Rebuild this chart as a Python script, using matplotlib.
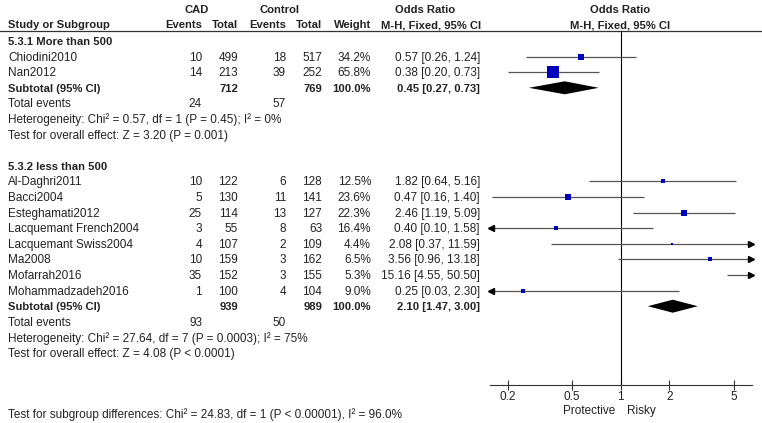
import matplotlib
matplotlib.use("Agg")
import matplotlib.pyplot as plt
import numpy as np

plt.rcParams['font.family'] = ['Liberation Sans', 'DejaVu Sans']

# ---- data ----
g1_title = "5.3.1 More than 500"
g1_study = ["Chiodini2010", "Nan2012"]
g1_cad_ev = [10, 14]
g1_cad_n = [499, 213]
g1_ctl_ev = [18, 39]
g1_ctl_n = [517, 252]
g1_weight = [34.2, 65.8]
g1_or = [0.57, 0.38]
g1_lo = [0.26, 0.20]
g1_hi = [1.24, 0.73]
g1_sub = (712, 769, 0.45, 0.27, 0.73)
g1_events = (24, 57)
g1_het = "Heterogeneity: Chi² = 0.57, df = 1 (P = 0.45); I² = 0%"
g1_z = "Test for overall effect: Z = 3.20 (P = 0.001)"

g2_title = "5.3.2 less than 500"
g2_study = ["Al-Daghri2011", "Bacci2004", "Esteghamati2012", "Lacquemant French2004",
            "Lacquemant Swiss2004", "Ma2008", "Mofarrah2016", "Mohammadzadeh2016"]
g2_cad_ev = [10, 5, 25, 3, 4, 10, 35, 1]
g2_cad_n = [122, 130, 114, 55, 107, 159, 152, 100]
g2_ctl_ev = [6, 11, 13, 8, 2, 3, 3, 4]
g2_ctl_n = [128, 141, 127, 63, 109, 162, 155, 104]
g2_weight = [12.5, 23.6, 22.3, 16.4, 4.4, 6.5, 5.3, 9.0]
g2_or = [1.82, 0.47, 2.46, 0.40, 2.08, 3.56, 15.16, 0.25]
g2_lo = [0.64, 0.16, 1.19, 0.10, 0.37, 0.96, 4.55, 0.03]
g2_hi = [5.16, 1.40, 5.09, 1.58, 11.59, 13.18, 50.50, 2.30]
g2_sub = (939, 989, 2.10, 1.47, 3.00)
g2_events = (93, 50)
g2_het = "Heterogeneity: Chi² = 27.64, df = 7 (P = 0.0003); I² = 75%"
g2_z = "Test for overall effect: Z = 4.08 (P < 0.0001)"

subgroup_diff = "Test for subgroup differences: Chi² = 24.83, df = 1 (P < 0.00001), I² = 96.0%"
axis_ticks = [0.2, 0.5, 1, 2, 5]

# ---- layout (pixels) ----
W, H = 762, 423
fs = 8.5      # regular text
fsb = 8.1     # bold text
tc = '#222222'
XMIN, XMAX = 0.1551, 6.50
row0 = 41.0
step = 15.6

fig = plt.figure(figsize=(W / 100, H / 100), dpi=100)
ax = fig.add_axes([0, 0, 1, 1])
ax.set_xlim(0, W)
ax.set_ylim(H, 0)
ax.axis('off')

fx = fig.add_axes([490 / W, (H - 385) / H, 262 / W, (385 - 31) / H])
fx.set_xscale('log')
fx.set_xlim(XMIN, XMAX)
fx.set_ylim(385, 31)
for s in ['top', 'left', 'right']:
    fx.spines[s].set_visible(False)
fx.spines['bottom'].set_color('#333333')
fx.spines['bottom'].set_linewidth(0.8)
fx.set_yticks([])
fx.set_xticks(axis_ticks)
fx.set_xticklabels([f"{t:g}" for t in axis_ticks])
fx.minorticks_off()
fx.tick_params(axis='x', direction='inout', length=7, width=0.8, colors='#333333',
               labelsize=fs, pad=1, labelcolor=tc)
fx.axvline(1, color='black', lw=0.8)
fx.patch.set_alpha(0)

# column right edges
c_cad_ev, c_cad_n, c_ctl_ev, c_ctl_n, c_w, c_or = 202, 238, 286, 322, 371, 480


def txt(x, y, s, ha='left', bold=False):
    ax.text(x, y + 1, s, ha=ha, va='center', fontsize=fsb if bold else fs, color=tc,
            fontweight='bold' if bold else 'normal')


# header
txt(197, 9, "CAD", ha='center', bold=True)
txt(280, 9, "Control", ha='center', bold=True)
txt(8, 24, "Study or Subgroup", bold=True)
for x, s in [(c_cad_ev, "Events"), (c_cad_n, "Total"), (c_ctl_ev, "Events"),
             (c_ctl_n, "Total"), (c_w, "Weight")]:
    txt(x, 24, s, ha='right', bold=True)
txt(425, 9, "Odds Ratio", ha='center', bold=True)
txt(431, 24, "M-H, Fixed, 95% CI", ha='center', bold=True)
txt(620, 9, "Odds Ratio", ha='center', bold=True)
txt(620, 24, "M-H, Fixed, 95% CI", ha='center', bold=True)
ax.plot([0, W], [31, 31], color='#333333', lw=0.9)


def draw_group(r, title, study, cev, cn, tev, tn, w, orr, lo, hi, sub, events, het, z):
    y = row0 + r * step
    txt(8, y, title, bold=True)
    for i in range(len(study)):
        y = row0 + (r + 1 + i) * step
        txt(8, y, study[i])
        txt(c_cad_ev, y, str(cev[i]), ha='right')
        txt(c_cad_n, y, str(cn[i]), ha='right')
        txt(c_ctl_ev, y, str(tev[i]), ha='right')
        txt(c_ctl_n, y, str(tn[i]), ha='right')
        txt(c_w, y, f"{w[i]:.1f}%", ha='right')
        txt(c_or, y, f"{orr[i]:.2f} [{lo[i]:.2f}, {hi[i]:.2f}]", ha='right')
        a, b = max(lo[i], XMIN), min(hi[i], XMAX)
        fx.plot([a, b], [y, y], color='#555555', lw=0.9, solid_capstyle='butt')
        if lo[i] < XMIN:
            fx.plot([XMIN * 1.012], [y], marker='<', ms=4, color='black', clip_on=False)
        if hi[i] > XMAX:
            fx.plot([XMAX / 1.012], [y], marker='>', ms=4, color='black', clip_on=False)
        if XMIN <= orr[i] <= XMAX:
            side = 2.3 + 0.133 * w[i]
            fx.plot([orr[i]], [y], marker='s', ms=side * 0.72, color='#0000BB',
                    mec='#0000BB', mew=0, clip_on=False)
    r = r + 1 + len(study)
    y = row0 + r * step
    txt(8, y, "Subtotal (95% CI)", bold=True)
    txt(c_cad_n, y, str(sub[0]), ha='right', bold=True)
    txt(c_ctl_n, y, str(sub[1]), ha='right', bold=True)
    txt(c_w, y, "100.0%", ha='right', bold=True)
    txt(c_or, y, f"{sub[2]:.2f} [{sub[3]:.2f}, {sub[4]:.2f}]", ha='right', bold=True)
    fx.fill([sub[3], sub[2], sub[4], sub[2]], [y, y - 6.5, y, y + 6.5],
            color='black', lw=0)
    y = row0 + (r + 1) * step
    txt(8, y, "Total events")
    txt(c_cad_ev, y, str(events[0]), ha='right')
    txt(c_ctl_ev, y, str(events[1]), ha='right')
    txt(8, row0 + (r + 2) * step, het)
    txt(8, row0 + (r + 3) * step, z)
    return r + 4


nr = draw_group(0, g1_title, g1_study, g1_cad_ev, g1_cad_n, g1_ctl_ev, g1_ctl_n,
                g1_weight, g1_or, g1_lo, g1_hi, g1_sub, g1_events, g1_het, g1_z)
draw_group(nr + 1, g2_title, g2_study, g2_cad_ev, g2_cad_n, g2_ctl_ev, g2_ctl_n,
           g2_weight, g2_or, g2_lo, g2_hi, g2_sub, g2_events, g2_het, g2_z)

txt(615, 410, "Protective", ha='right')
txt(627, 410, "Risky")
txt(8, 414, subgroup_diff)

fig.savefig("out.png", dpi=100)
